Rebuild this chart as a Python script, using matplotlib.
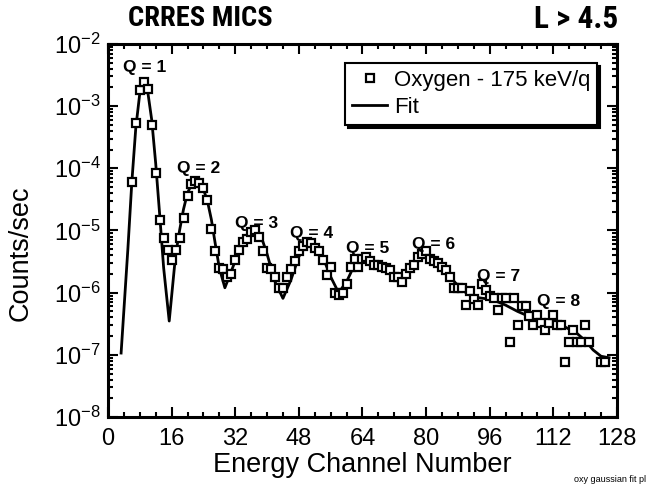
import matplotlib
matplotlib.use('Agg')
import matplotlib.pyplot as plt
from matplotlib.ticker import LogLocator, MultipleLocator, FixedLocator, NullFormatter
from matplotlib import font_manager

plt.rcParams['font.family'] = ['Liberation Sans', 'DejaVu Sans']
plt.rcParams['mathtext.fontset'] = 'custom'
plt.rcParams['mathtext.rm'] = 'Liberation Sans'
plt.rcParams['mathtext.it'] = 'Liberation Sans'

# ---- data ----
channels = [6, 7, 8, 9, 10, 11, 12, 13, 14, 15, 16, 17, 18, 19, 20, 21, 22, 23, 24, 25,
            26, 27, 28, 29, 30, 31, 32, 33, 34, 35, 36, 37, 38, 39, 40, 41, 42, 43, 44, 45,
            46, 47, 48, 49, 50, 51, 52, 53, 54, 55, 56, 57, 58, 59, 60, 61, 62, 63, 64, 65,
            66, 67, 68, 69, 70, 71, 72, 73, 74, 75, 76, 77, 78, 79, 80, 81, 82, 83, 84, 85,
            86, 87, 88, 89, 90, 91, 92, 93, 94, 95, 96, 97, 98, 99, 100, 101, 102, 103, 104, 105,
            106, 107, 108, 109, 110, 111, 112, 113, 114, 115, 116, 117, 118, 119, 120, 121, 124, 125]
counts = [6.0e-5, 5.4e-4, 1.8e-3, 2.4e-3, 1.9e-3, 5.0e-4, 8.3e-5, 1.5e-5, 7.6e-6, 4.9e-6,
          3.4e-6, 4.9e-6, 7.6e-6, 1.6e-5, 3.6e-5, 5.6e-5, 6.3e-5, 5.8e-5, 4.8e-5, 3.1e-5,
          1.05e-5, 4.6e-6, 2.5e-6, 2.4e-6, 1.8e-6, 2.0e-6, 3.4e-6, 4.9e-6, 6.6e-6, 7.2e-6,
          9.3e-6, 1.0e-5, 7.9e-6, 4.6e-6, 2.5e-6, 2.4e-6, 1.8e-6, 1.2e-6, 1.2e-6, 1.8e-6,
          2.4e-6, 3.2e-6, 4.6e-6, 5.6e-6, 6.6e-6, 6.3e-6, 5.2e-6, 4.6e-6, 3.4e-6, 1.9e-6,
          2.6e-6, 1.0e-6, 9.1e-7, 1.0e-6, 1.4e-6, 2.6e-6, 3.5e-6, 2.6e-6, 3.5e-6, 3.8e-6,
          3.2e-6, 2.8e-6, 2.8e-6, 2.6e-6, 2.5e-6, 2.3e-6, 1.8e-6, 1.8e-6, 1.5e-6, 2.0e-6,
          2.5e-6, 2.8e-6, 3.8e-6, 4.2e-6, 4.6e-6, 3.5e-6, 3.2e-6, 3.0e-6, 2.6e-6, 2.3e-6,
          1.8e-6, 1.2e-6, 1.2e-6, 1.2e-6, 6.3e-7, 1.05e-6, 7.9e-7, 6.3e-7, 1.4e-6, 1.1e-6,
          8.9e-7, 8.1e-7, 5.2e-7, 8.1e-7, 8.1e-7, 1.6e-7, 8.1e-7, 3.0e-7, 6.0e-7, 6.0e-7,
          4.2e-7, 3.0e-7, 4.4e-7, 3.2e-7, 2.5e-7, 3.2e-7, 4.4e-7, 3.0e-7, 3.0e-7, 7.8e-8,
          1.6e-7, 2.5e-7, 1.6e-7, 1.6e-7, 3.0e-7, 1.6e-7, 7.8e-8, 7.8e-8]

fit_channels = [3.3, 5, 6, 7, 8, 9, 10, 11, 12, 13, 14, 15.4, 17, 18, 19, 20, 21, 22, 23, 24,
                25, 26, 27, 28, 29.4, 31, 33, 35, 37, 38, 39, 40, 41, 42, 44, 46, 48, 50, 51,
                52, 54, 56, 58, 60, 62, 64.5, 67, 70, 72, 74, 76, 78, 80, 82, 84, 86, 88, 90,
                92, 95, 97, 100, 103, 105, 108, 112, 115, 118, 120, 122, 124, 126]
fit_counts = [1.07e-7, 5.0e-6, 6.0e-5, 4.5e-4, 1.6e-3, 2.3e-3, 1.7e-3, 6.0e-4, 1.2e-4, 1.8e-5,
              2.5e-6, 3.5e-7, 4.0e-6, 1.0e-5, 2.2e-5, 4.0e-5, 5.5e-5, 6.0e-5, 5.6e-5, 4.6e-5,
              3.0e-5, 1.5e-5, 6.0e-6, 2.5e-6, 1.2e-6, 2.2e-6, 4.8e-6, 7.8e-6, 9.0e-6, 8.5e-6,
              6.5e-6, 4.2e-6, 2.5e-6, 1.5e-6, 8.1e-7, 1.6e-6, 3.8e-6, 6.0e-6, 6.3e-6, 5.8e-6,
              3.8e-6, 1.8e-6, 1.0e-6, 1.5e-6, 2.8e-6, 3.5e-6, 3.0e-6, 2.4e-6, 2.0e-6, 1.7e-6,
              2.2e-6, 3.2e-6, 4.0e-6, 3.6e-6, 2.6e-6, 1.8e-6, 1.3e-6, 1.0e-6, 8.5e-7, 8.0e-7,
              7.6e-7, 6.3e-7, 5.0e-7, 4.4e-7, 3.8e-7, 3.2e-7, 2.8e-7, 2.2e-7, 1.7e-7, 1.2e-7,
              9.5e-8, 9.0e-8]

q_labels = ["Q = 1", "Q = 2", "Q = 3", "Q = 4", "Q = 5", "Q = 6", "Q = 7", "Q = 8"]
q_x = [9.2, 22.9, 37.4, 51.1, 65.4, 82.0, 98.2, 113.3]
q_y = [4.1e-3, 1.0e-4, 1.3e-5, 8.9e-6, 5.1e-6, 5.9e-6, 1.8e-6, 7.2e-7]

x_ticks = [0, 16, 32, 48, 64, 80, 96, 112, 128]

fig = plt.figure(figsize=(6.56, 4.93), dpi=100)
ax = fig.add_axes([0.1646, 0.154, 0.7759, 0.757])

ax.plot(fit_channels, fit_counts, color='black', lw=2.0, label='Fit', zorder=2)
ax.plot(channels, counts, linestyle='none', marker='s', markersize=5.2,
        markerfacecolor='white', markeredgecolor='black', markeredgewidth=1.6,
        label='Oxygen - 175 keV/q', zorder=3)

ax.set_yscale('log')
ax.set_xlim(0, 128)
ax.set_ylim(1e-8, 1e-2)
ax.xaxis.set_major_locator(FixedLocator(x_ticks))
ax.xaxis.set_minor_locator(MultipleLocator(4))
ax.yaxis.set_major_locator(LogLocator(base=10, numticks=10))
ax.yaxis.set_minor_locator(LogLocator(base=10, subs=range(2, 10), numticks=20))
ax.yaxis.set_minor_formatter(NullFormatter())
ax.tick_params(which='both', direction='in', top=True, right=True, width=1.5)
ax.tick_params(which='major', length=7, labelsize=17)
ax.tick_params(axis='x', which='major', pad=8)
ax.tick_params(axis='y', which='major', pad=5)
ax.tick_params(which='minor', length=3.5)
for s in ax.spines.values():
    s.set_linewidth(2.2)

ax.set_xlabel('Energy Channel Number', fontsize=19.5, labelpad=1)
ax.set_ylabel('Counts/sec', fontsize=19.5)
ax.yaxis.set_label_coords(-0.147, 0.44)

for lab, x, y in zip(q_labels, q_x, q_y):
    ax.text(x, y, lab, fontsize=12.5, fontweight='bold', ha='center', va='center', zorder=4)

leg = ax.legend(handles=ax.get_lines()[::-1], loc='upper right',
                bbox_to_anchor=(0.961, 0.949), borderaxespad=0, fontsize=16,
                fancybox=False, edgecolor='black', framealpha=1,
                shadow={'color': 'black', 'alpha': 1}, handlelength=1.6,
                handletextpad=0.3, borderpad=0.3, labelspacing=0.3)
leg.get_frame().set_linewidth(1.5)

# prefer a narrow/condensed sans face for the title if one is installed
narrow = None
cands = []
for f in font_manager.fontManager.ttflist:
    if ('Narrow' in f.name or 'Condensed' in f.name or
            str(f.stretch) in ('condensed', 'semi-condensed', '500', '600')):
        cands.append(f.name)
for pref in ('Liberation Sans Narrow', 'Arial Narrow', 'Roboto Condensed',
             'Open Sans Condensed', 'Noto Sans Condensed'):
    if pref in cands:
        narrow = pref
        break
if narrow:
    left_kw = dict(family=[narrow, 'Liberation Sans'], fontsize=20.5)
    right_kw = dict(family=[narrow, 'Liberation Sans'], fontsize=22.5)
else:
    left_kw = dict(family=['Liberation Sans'], fontsize=17.5)
    right_kw = dict(family=['Liberation Sans'], fontsize=17.5)

fig.text(0.195, 0.962, 'CRRES MICS', fontweight='bold', ha='left', va='center', **left_kw)
fig.text(0.942, 0.962, 'L > 4.5', fontweight='bold', ha='right', va='center', **right_kw)
fig.text(0.985, 0.027, 'oxy gaussian fit pl', fontsize=6.5, ha='right', va='center')

fig.savefig('out.png', dpi=100)
